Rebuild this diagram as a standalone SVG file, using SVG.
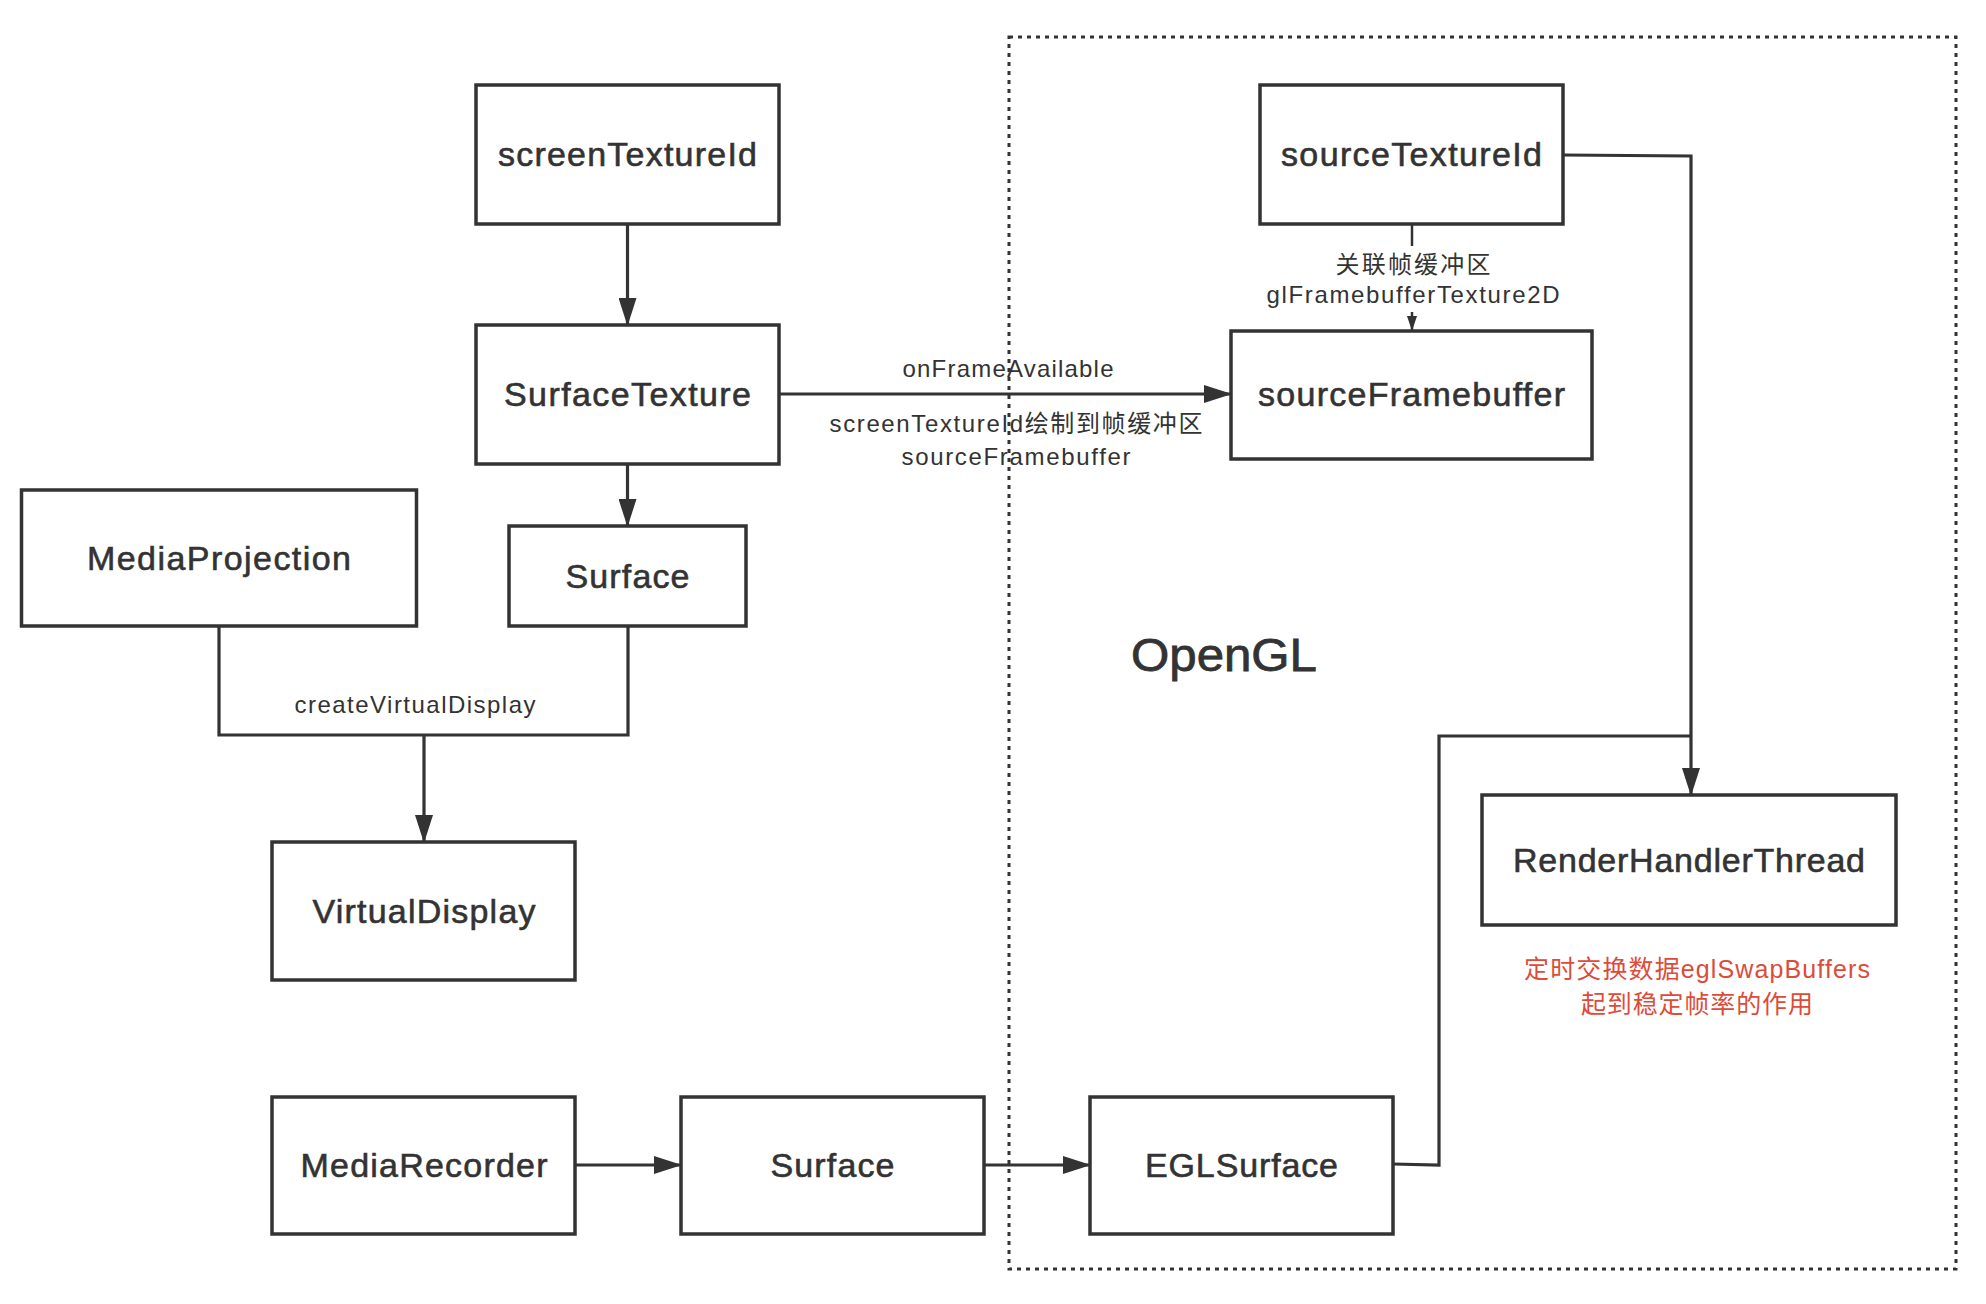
<svg xmlns="http://www.w3.org/2000/svg" width="1986" height="1304" viewBox="0 0 1986 1304">
<style>
.box{fill:#fff;stroke:#333;stroke-width:3.5}
.lbl{font-family:"Liberation Sans","Noto Sans CJK SC",sans-serif;font-size:34px;fill:#333;stroke:#333;stroke-width:0.6;text-anchor:middle}
.sm{font-family:"Liberation Sans","Noto Sans CJK SC",sans-serif;font-size:24px;fill:#333;text-anchor:middle}
.red{font-family:"Liberation Sans","Noto Sans CJK SC",sans-serif;font-size:25px;fill:#dd4b39;text-anchor:middle}
.big{font-family:"Liberation Sans",sans-serif;font-size:46px;fill:#333;stroke:#333;stroke-width:0.8;text-anchor:middle}
.ln{fill:none;stroke:#333;stroke-width:3.2}
.thin{fill:none;stroke:#333;stroke-width:2.5}
</style>
<defs>
<marker id="arr" viewBox="0 0 28 18" refX="27" refY="9" markerWidth="28" markerHeight="18" markerUnits="userSpaceOnUse" orient="auto">
<path d="M0,0 L28,9 L0,18 z" fill="#333"/>
</marker>
<marker id="arrs" viewBox="0 0 15 10" refX="15" refY="5" markerWidth="15" markerHeight="10" markerUnits="userSpaceOnUse" orient="auto">
<path d="M0,0 L15,5 L0,10 z" fill="#333"/>
</marker>
</defs>
<rect width="1986" height="1304" fill="#fff"/>

<g id="opengl-container">
<rect x="1009" y="37" width="947" height="1232" fill="none" stroke="#333" stroke-width="3" stroke-dasharray="4 5"/>
<text class="big" x="1224" y="671" textLength="186" lengthAdjust="spacingAndGlyphs">OpenGL</text>
</g>

<g id="connectors">
<line class="ln" x1="627.5" y1="224" x2="627.5" y2="325" marker-end="url(#arr)"/>
<line class="ln" x1="627.5" y1="464" x2="627.5" y2="526" marker-end="url(#arr)"/>
<line class="ln" x1="779" y1="394" x2="1231" y2="394" marker-end="url(#arr)"/>
<polyline class="ln" points="219,626 219,735 628,735 628,626"/>
<line class="ln" x1="424" y1="735" x2="424" y2="842" marker-end="url(#arr)"/>
<line class="ln" x1="575" y1="1165" x2="681" y2="1165" marker-end="url(#arr)"/>
<line class="ln" x1="984" y1="1165" x2="1090" y2="1165" marker-end="url(#arr)"/>
<polyline class="ln" points="1563,155 1691,156 1691,795" marker-end="url(#arr)"/>
<polyline class="ln" points="1393,1164 1439,1165 1439,736 1691,736"/>
<line class="thin" x1="1412" y1="224" x2="1412" y2="246"/>
<line class="thin" x1="1412" y1="312" x2="1412" y2="331" marker-end="url(#arrs)"/>
<text class="sm" x="1008" y="377" textLength="211" lengthAdjust="spacing">onFrameAvailable</text>
<text class="sm" x="1016" y="432" textLength="373" lengthAdjust="spacing">screenTextureId绘制到帧缓冲区</text>
<text class="sm" x="1016" y="465" textLength="229" lengthAdjust="spacing">sourceFramebuffer</text>
<text class="sm" x="1413" y="273" textLength="155" lengthAdjust="spacing">关联帧缓冲区</text>
<text class="sm" x="1413" y="303" textLength="293" lengthAdjust="spacing">glFramebufferTexture2D</text>
<text class="sm" x="415" y="713" textLength="241" lengthAdjust="spacing">createVirtualDisplay</text>
</g>

<g id="screenTextureId">
<rect class="box" x="476" y="85" width="303" height="139"/>
<text class="lbl" x="627.5" y="166" textLength="259" lengthAdjust="spacing">screenTextureId</text>
</g>
<g id="SurfaceTexture">
<rect class="box" x="476" y="325" width="303" height="139"/>
<text class="lbl" x="627.5" y="406" textLength="247" lengthAdjust="spacing">SurfaceTexture</text>
</g>
<g id="Surface-top">
<rect class="box" x="509" y="526" width="237" height="100"/>
<text class="lbl" x="627.5" y="588" textLength="124" lengthAdjust="spacing">Surface</text>
</g>
<g id="MediaProjection">
<rect class="box" x="21.5" y="490" width="395" height="136"/>
<text class="lbl" x="219" y="570" textLength="264" lengthAdjust="spacing">MediaProjection</text>
</g>
<g id="VirtualDisplay">
<rect class="box" x="272" y="842" width="303" height="138"/>
<text class="lbl" x="424" y="923" textLength="223" lengthAdjust="spacing">VirtualDisplay</text>
</g>
<g id="MediaRecorder">
<rect class="box" x="272" y="1097" width="303" height="137"/>
<text class="lbl" x="424" y="1177" textLength="247" lengthAdjust="spacing">MediaRecorder</text>
</g>
<g id="Surface-bottom">
<rect class="box" x="681" y="1097" width="303" height="137"/>
<text class="lbl" x="832.5" y="1177" textLength="124" lengthAdjust="spacing">Surface</text>
</g>
<g id="EGLSurface">
<rect class="box" x="1090" y="1097" width="303" height="137"/>
<text class="lbl" x="1241.5" y="1177" textLength="193" lengthAdjust="spacing">EGLSurface</text>
</g>
<g id="sourceTextureId">
<rect class="box" x="1260" y="85" width="303" height="139"/>
<text class="lbl" x="1411.5" y="166" textLength="261" lengthAdjust="spacing">sourceTextureId</text>
</g>
<g id="sourceFramebuffer">
<rect class="box" x="1231" y="331" width="361" height="128"/>
<text class="lbl" x="1411.5" y="406" textLength="307" lengthAdjust="spacing">sourceFramebuffer</text>
</g>
<g id="RenderHandlerThread">
<rect class="box" x="1482" y="795" width="414" height="130"/>
<text class="lbl" x="1689" y="872" textLength="352" lengthAdjust="spacing">RenderHandlerThread</text>
</g>
<g id="note">
<text class="red" x="1697" y="978" textLength="346" lengthAdjust="spacing">定时交换数据eglSwapBuffers</text>
<text class="red" x="1697" y="1013" textLength="232" lengthAdjust="spacing">起到稳定帧率的作用</text>
</g>
</svg>
